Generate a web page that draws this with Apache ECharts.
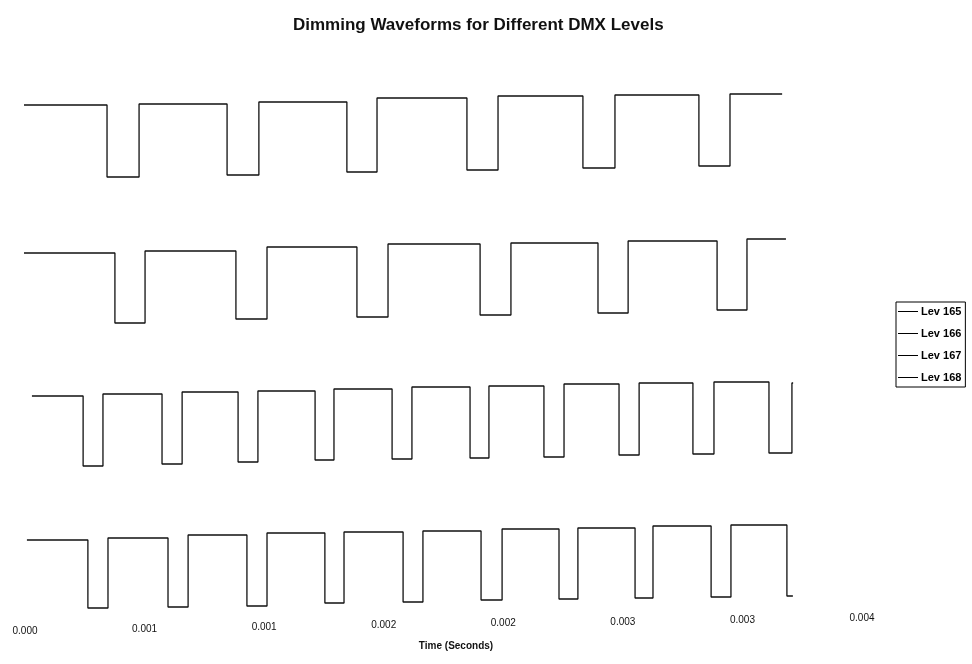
<!DOCTYPE html>
<html>
<head>
<meta charset="utf-8">
<script src="https://cdn.jsdelivr.net/npm/echarts@6/dist/echarts.min.js"></script>
<style>
html,body{margin:0;padding:0;background:#fff;}
#chart{width:972px;height:664px;}
</style>
</head>
<body>
<div id="chart"></div>
<script>
// Time axis tick labels (seconds, as printed on the chart)
const tickLabels = ['0.000','0.001','0.001','0.002','0.002','0.003','0.003','0.004'];
const seriesNames = ['Lev 165','Lev 166','Lev 167','Lev 168'];

// Lev 165: edge times (s) and plateau levels (arbitrary units, offset per trace)
const lev165Start = -0.000021;
const lev165End = 0.003166;
const lev165Falls = [0.000343,0.000845,0.001346,0.001848,0.002333,0.002818];
const lev165Rises = [0.000477,0.000978,0.001472,0.001978,0.002467,0.002948];
const lev165Highs = [515,516,518,522,524,525,526];
const lev165Lows  = [443,445,448,450,452,454];

// Lev 166
const lev166Start = -0.000021;
const lev166End = 0.003182;
const lev166Falls = [0.000376,0.000882,0.001388,0.001903,0.002396,0.002894];
const lev166Rises = [0.000502,0.001012,0.001518,0.002032,0.002522,0.003019];
const lev166Highs = [367,369,373,376,377,379,381];
const lev166Lows  = [297,301,303,305,307,310];

// Lev 167
const lev167Start = 0.000029;
const lev167End = 0.003212;
const lev167Falls = [0.000243,0.000573,0.000891,0.001213,0.001535,0.001861,0.002170,0.002484,0.002793,0.003111];
const lev167Rises = [0.000326,0.000657,0.000974,0.001292,0.001618,0.001940,0.002254,0.002568,0.002881,0.003207];
const lev167Highs = [224,226,228,229,231,233,234,236,237,238,237];
const lev167Lows  = [154,156,158,160,161,162,163,165,166,167];

// Lev 168
const lev168Start = 0.000008;
const lev168End = 0.003211;
const lev168Falls = [0.000263,0.000598,0.000928,0.001254,0.001581,0.001907,0.002233,0.002551,0.002869,0.003186];
const lev168Rises = [0.000347,0.000682,0.001012,0.001334,0.001664,0.001995,0.002312,0.002626,0.002952];
const lev168Highs = [80,82,85,87,88,89,91,92,94,95];
const lev168Lows  = [12,13,14,17,18,20,21,22,23,24];

function buildWave(start, end, falls, rises, highs, lows){
  const pts = [[start, highs[0]]];
  let last = highs[0];
  for (let i = 0; i < falls.length; i++){
    pts.push([falls[i], highs[i]]);
    pts.push([falls[i], lows[i]]);
    last = lows[i];
    if (i < rises.length){
      pts.push([rises[i], lows[i]]);
      pts.push([rises[i], highs[i+1]]);
      last = highs[i+1];
    }
  }
  pts.push([end, last]);
  return pts;
}

const waves = [
  buildWave(lev165Start, lev165End, lev165Falls, lev165Rises, lev165Highs, lev165Lows),
  buildWave(lev166Start, lev166End, lev166Falls, lev166Rises, lev166Highs, lev166Lows),
  buildWave(lev167Start, lev167End, lev167Falls, lev167Rises, lev167Highs, lev167Lows),
  buildWave(lev168Start, lev168End, lev168Falls, lev168Rises, lev168Highs, lev168Lows)
];

// slight slant of the printed tick labels (scanned page): per-label top padding
const labelRich = {};
tickLabels.forEach(function(t, i){
  labelRich['t' + i] = {
    fontFamily: 'Liberation Sans Narrow, Liberation Sans, Arial, sans-serif',
    fontSize: 10, color: '#111',
    padding: [Math.round((tickLabels.length - 1 - i) * 1.8), 0, 0, 0]
  };
});

const chart = echarts.init(document.getElementById('chart'), null, {renderer:'canvas'});
const option = {
  backgroundColor: '#fff',
  animation: false,
  title: {
    text: 'Dimming Waveforms for Different DMX Levels',
    left: 288, top: 12,
    textStyle: {fontFamily: 'Liberation Sans, Arial, sans-serif', fontSize: 17, fontWeight: 'bold', color: '#111'}
  },
  legend: {
    orient: 'vertical',
    left: 896, top: 302,
    data: seriesNames,
    icon: 'path://M0,0 L20,0 L20,1 L0,1 Z',
    itemWidth: 20, itemHeight: 1,
    itemGap: 11,
    padding: [4, 4, 4, 2],
    borderColor: '#000', borderWidth: 1,
    textStyle: {fontFamily: 'Liberation Sans, Arial, sans-serif', fontSize: 11, fontWeight: 'bold', color: '#000', padding: [0,0,0,-2]},
    itemStyle: {color: '#000'}
  },
  grid: {left: 25, right: 110, top: 72, bottom: 52, containLabel: false},
  xAxis: {
    type: 'value',
    min: 0, max: 0.0035, interval: 0.0005,
    axisLine: {show: false}, axisTick: {show: false}, splitLine: {show: false},
    axisLabel: {
      margin: 1,
      verticalAlign: 'top',
      fontFamily: 'Liberation Sans Narrow, Liberation Sans, Arial, sans-serif', fontSize: 10, color: '#111',
      formatter: function(v){
        const i = Math.round(v/0.0005);
        return '{t' + i + '|' + tickLabels[i] + '}';
      },
      rich: labelRich
    },
    name: 'Time (Seconds)',
    nameLocation: 'middle',
    nameGap: 27,
    nameTextStyle: {fontFamily: 'Liberation Sans, Arial, sans-serif', fontSize: 10, fontWeight: 'bold', color: '#111', padding: [0,0,0,25]}
  },
  yAxis: {
    type: 'value', min: 8, max: 548, show: false, splitLine: {show: false}
  },
  series: seriesNames.map(function(n, i){
    return {
      name: n, type: 'line', data: waves[i],
      symbol: 'none', clip: false,
      lineStyle: {color: '#111', width: 1.3},
      itemStyle: {color: '#000'}
    };
  })
};
chart.setOption(option);
</script>
</body>
</html>
